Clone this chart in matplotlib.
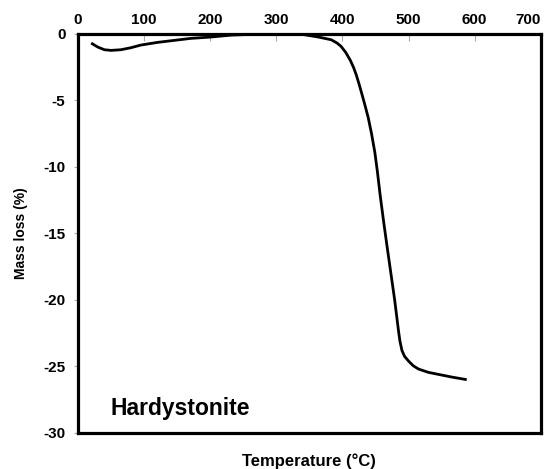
import matplotlib.pyplot as plt

plt.rcParams['font.family'] = ['Liberation Sans', 'DejaVu Sans']
plt.rcParams['font.weight'] = 'bold'
plt.rcParams['axes.unicode_minus'] = False

# TGA curve for hardystonite: temperature (deg C) and mass loss (%)
temperature = [20, 30, 40, 50, 65, 80, 95, 120, 145, 170, 200, 232, 260,
               300, 340, 364, 383, 392, 398, 405, 412, 417, 421, 425, 429,
               434, 439, 444, 449, 453, 457, 462, 467, 471, 475, 479, 482,
               485, 487, 490, 494, 500, 507, 515, 530, 545, 565, 588]
mass_loss = [-0.7, -1.0, -1.2, -1.25, -1.2, -1.05, -0.85, -0.65, -0.5, -0.35,
             -0.25, -0.1, -0.05, 0.0, -0.05, -0.25, -0.45, -0.7, -0.95, -1.4,
             -2.0, -2.55, -3.1, -3.75, -4.45, -5.35, -6.3, -7.5, -8.9, -10.4,
             -12.1, -14.0, -15.8, -17.2, -18.6, -20.0, -21.2, -22.4, -23.1,
             -23.8, -24.25, -24.6, -24.95, -25.2, -25.45, -25.6, -25.8, -26.0]

x_ticks = [0, 100, 200, 300, 400, 500, 600, 700]
y_ticks = [0, -5, -10, -15, -20, -25, -30]

fig = plt.figure(figsize=(5.49, 4.69), dpi=100)
ax = fig.add_axes([0.142, 0.077, 0.843, 0.851])

ax.plot(temperature, mass_loss, color='black', lw=2.0,
        solid_joinstyle='round', solid_capstyle='butt')

ax.set_xlim(0, 700)
ax.set_ylim(-30, 0)
ax.set_xticks(x_ticks)
ax.set_yticks(y_ticks)
ax.xaxis.tick_top()
ax.tick_params(axis='x', direction='in', length=5, width=0.8, color='#aaaaaa',
               labelsize=11, pad=5)
ax.tick_params(axis='y', direction='out', length=3, width=0.8, color='#aaaaaa',
               labelsize=11, pad=6)
for lab in ax.get_xticklabels() + ax.get_yticklabels():
    lab.set_fontweight('bold')
# keep the last top label inside the figure
ax.get_xticklabels()[-1].set_horizontalalignment('right')

for sp in ax.spines.values():
    sp.set_linewidth(2.3)

ax.set_xlabel('Temperature (°C)', fontsize=12, fontweight='bold', labelpad=15)
ax.set_ylabel('Mass loss (%)', fontsize=10, fontweight='bold', labelpad=11)

ax.text(0.07, 0.06, 'Hardystonite', transform=ax.transAxes,
        fontsize=16.5, fontweight='bold', va='center', ha='left')

fig.savefig('out.png', dpi=100)
